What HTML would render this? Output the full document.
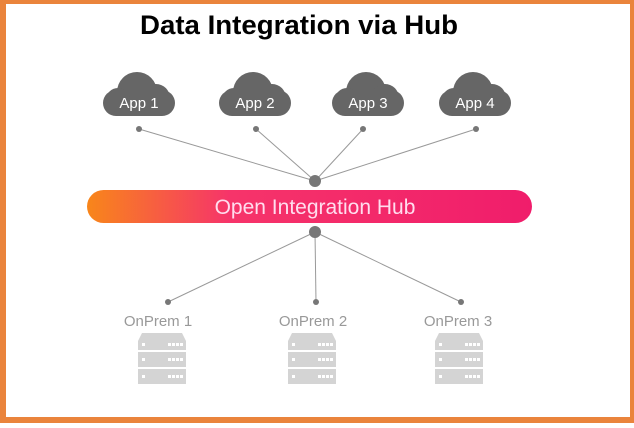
<!DOCTYPE html>
<html><head><style>
body{margin:0;width:634px;height:423px;overflow:hidden;background:#fff;font-family:"Liberation Sans",sans-serif}
</style></head><body>
<svg width="634" height="423" viewBox="0 0 634 423" xmlns="http://www.w3.org/2000/svg">
<defs>
<linearGradient id="g" x1="0" x2="1" y1="0" y2="0">
<stop offset="0" stop-color="#f8861a"/><stop offset="0.32" stop-color="#f6346a"/><stop offset="1" stop-color="#f01d6b"/>
</linearGradient>
<g id="cloud" fill="#666">
<rect x="-36" y="-10" width="72" height="26" rx="13"/>
<circle cx="-2" cy="-8" r="20"/>
<circle cx="17" cy="-2" r="14"/>
<circle cx="-21" cy="0" r="12"/>
</g>
<g id="srv" fill="#d4d4d4">
<path d="M-20,0 h40 l4,8 v9 h-48 v-9 z"/>
<rect x="-24" y="19" width="48" height="15"/>
<rect x="-24" y="36" width="48" height="15"/>
<g fill="#fff"><rect x="-20" y="10" width="3" height="3"/><rect x="6" y="10" width="3" height="3"/><rect x="10" y="10" width="3" height="3"/><rect x="14" y="10" width="3" height="3"/><rect x="18" y="10" width="3" height="3"/>
<rect x="-20" y="25" width="3" height="3"/><rect x="6" y="25" width="3" height="3"/><rect x="10" y="25" width="3" height="3"/><rect x="14" y="25" width="3" height="3"/><rect x="18" y="25" width="3" height="3"/>
<rect x="-20" y="42" width="3" height="3"/><rect x="6" y="42" width="3" height="3"/><rect x="10" y="42" width="3" height="3"/><rect x="14" y="42" width="3" height="3"/><rect x="18" y="42" width="3" height="3"/></g>
</g>
</defs>
<rect x="0" y="0" width="634" height="4" fill="#ea843c"/>
<rect x="0" y="0" width="6" height="423" fill="#ea843c"/>
<rect x="630" y="0" width="4" height="423" fill="#ea843c"/>
<rect x="0" y="417" width="634" height="6" fill="#ea843c"/>
<text x="299" y="34" text-anchor="middle" font-size="27" font-weight="bold" fill="#000" textLength="318" lengthAdjust="spacingAndGlyphs">Data Integration via Hub</text>
<g stroke="#999" stroke-width="1">
<line x1="139" y1="129" x2="315" y2="181"/><line x1="256" y1="129" x2="315" y2="181"/><line x1="363" y1="129" x2="315" y2="181"/><line x1="476" y1="129" x2="315" y2="181"/>
<line x1="168" y1="302" x2="315" y2="232"/><line x1="316" y1="302" x2="315" y2="232"/><line x1="461" y1="302" x2="315" y2="232"/>
</g>
<g fill="#777">
<circle cx="139" cy="129" r="3"/><circle cx="256" cy="129" r="3"/><circle cx="363" cy="129" r="3"/><circle cx="476" cy="129" r="3"/>
<circle cx="168" cy="302" r="3"/><circle cx="316" cy="302" r="3"/><circle cx="461" cy="302" r="3"/>
<circle cx="315" cy="181" r="6"/><circle cx="315" cy="232" r="6"/>
</g>
<g fill="#fff" font-size="15" text-anchor="middle">
<use href="#cloud" x="139" y="100"/><text x="139" y="108">App 1</text>
<use href="#cloud" x="255" y="100"/><text x="255" y="108">App 2</text>
<use href="#cloud" x="368" y="100"/><text x="368" y="108">App 3</text>
<use href="#cloud" x="475" y="100"/><text x="475" y="108">App 4</text>
</g>
<rect x="87" y="190" width="445" height="33" rx="16.5" fill="url(#g)"/>
<text x="315" y="214" text-anchor="middle" font-size="21" fill="#fde">Open Integration Hub</text>
<g fill="#999" font-size="15" text-anchor="middle">
<text x="158" y="326">OnPrem 1</text><text x="313" y="326">OnPrem 2</text><text x="458" y="326">OnPrem 3</text>
</g>
<use href="#srv" x="162" y="333"/><use href="#srv" x="312" y="333"/><use href="#srv" x="459" y="333"/>
</svg>
</body></html>
